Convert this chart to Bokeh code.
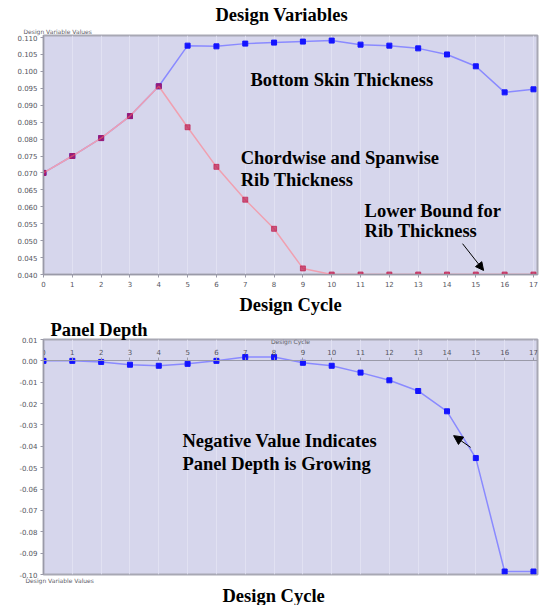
from bokeh.plotting import figure
from bokeh.layouts import column
from bokeh.models import Range1d, FixedTicker, Label, Arrow, NormalHead, Title
from bokeh.embed import file_html
from bokeh.resources import INLINE

# ---------------- data ----------------
cycles = [0, 1, 2, 3, 4, 5, 6, 7, 8, 9, 10, 11, 12, 13, 14, 15, 16, 17]
cycle_labels = ["0", "1", "2", "3", "4", "5", "6", "7", "8", "9", "10", "11",
                "12", "13", "14", "15", "16", "17"]

skin_thickness = [0.0700, 0.0750, 0.0803, 0.0868, 0.0956, 0.1076, 0.1074, 0.1082,
                  0.1085, 0.1088, 0.1091, 0.1079, 0.1076, 0.1068, 0.1050, 0.1015,
                  0.0938, 0.0947]
rib_thickness = [0.0700, 0.0750, 0.0803, 0.0868, 0.0956, 0.0835, 0.0718, 0.0621,
                 0.0535, 0.0418, 0.0400, 0.0400, 0.0400, 0.0400, 0.0400, 0.0400,
                 0.0400, 0.0400]
panel_depth = [0.0000, 0.0000, -0.0005, -0.0018, -0.0023, -0.0014, 0.0000, 0.0018,
               0.0018, -0.0009, -0.0023, -0.0055, -0.0091, -0.0141, -0.0236,
               -0.0455, -0.0986, -0.0986]

top_ticks = [0.040, 0.045, 0.050, 0.055, 0.060, 0.065, 0.070, 0.075, 0.080,
             0.085, 0.090, 0.095, 0.100, 0.105, 0.110]
top_tick_labels = ["0.040", "0.045", "0.050", "0.055", "0.060", "0.065", "0.070",
                   "0.075", "0.080", "0.085", "0.090", "0.095", "0.100", "0.105",
                   "0.110"]
bottom_ticks = [0.01, 0.0, -0.01, -0.02, -0.03, -0.04, -0.05, -0.06, -0.07,
                -0.08, -0.09, -0.10]
bottom_tick_labels = ["0.01", "0.00", "-0.01", "-0.02", "-0.03", "-0.04", "-0.05",
                      "-0.06", "-0.07", "-0.08", "-0.09", "-0.10"]

# ---------------- style ----------------
SERIF = "Liberation Serif"
BIG = "18.5px"
BG = "#d6d6ec"
BLUE_LINE = "#8a8aff"
BLUE_MARK = "#1414ff"
RED_LINE = "#f0a0b0"
RED_MARK = "#c02050"


def style(p):
    p.background_fill_color = BG
    p.border_fill_color = "white"
    p.outline_line_color = "#a8a8b4"
    p.outline_line_width = 2
    p.ygrid.visible = False
    p.xgrid.grid_line_color = "#e4e4f4"
    p.xgrid.grid_line_alpha = 0.8
    for ax in p.axis:
        ax.axis_line_color = "#9a9aa8"
        ax.major_tick_line_color = "#9a9aa8"
        ax.minor_tick_line_color = None
        ax.major_tick_in = 0
        ax.major_tick_out = 3
        ax.major_label_standoff = 3
        ax.major_label_text_font = "DejaVu Sans"
        ax.major_label_text_font_size = "7px"
        ax.major_label_text_color = "#555560"


def bold_label(p, x, y, text):
    p.add_layout(Label(x=x, y=y, text=text, text_font=SERIF, text_font_style="bold",
                       text_font_size=BIG, text_color="black", text_align="left",
                       text_baseline="middle"))


def big_title(text, offset, standoff=0):
    return Title(text=text, align="left", offset=offset, standoff=standoff,
                 text_font=SERIF, text_font_style="bold", text_font_size=BIG,
                 text_color="black")


def tiny_title(text, offset, standoff=0):
    return Title(text=text, align="left", offset=offset, standoff=standoff,
                 text_font="DejaVu Sans", text_font_style="normal",
                 text_font_size="6px", text_color="#606068")


# ---------------- top chart ----------------
top = figure(width=544, height=317, x_range=Range1d(0, 17.14),
             y_range=Range1d(0.04, 0.1106), output_backend="svg",
             toolbar_location=None, min_border_left=43, min_border_right=7,
             min_border_top=35, min_border_bottom=43)
top.xaxis.ticker = FixedTicker(ticks=cycles)
top.xaxis.major_label_overrides = {c: l for c, l in zip(cycles, cycle_labels)}
top.yaxis.ticker = FixedTicker(ticks=top_ticks)
top.yaxis.major_label_overrides = {t: l for t, l in zip(top_ticks, top_tick_labels)}
style(top)
top.xaxis.axis_label = "Design Cycle"
top.xaxis.axis_label_text_font = SERIF
top.xaxis.axis_label_text_font_style = "bold"
top.xaxis.axis_label_text_font_size = BIG
top.xaxis.axis_label_text_color = "black"
top.xaxis.axis_label_standoff = 5

top.add_layout(tiny_title("Design Variable Values", -20, standoff=2), "above")
top.add_layout(big_title("Design Variables", 172, standoff=0), "above")

top.line(cycles, skin_thickness, line_color=BLUE_LINE, line_width=1.5)
top.scatter(cycles, skin_thickness, marker="square", size=5, color=BLUE_MARK)
top.line(cycles, rib_thickness, line_color=RED_LINE, line_width=1.5)
top.scatter(cycles, rib_thickness, marker="square", size=5, color=RED_MARK,
            alpha=0.7)

bold_label(top, 7.18, 0.0976, "Bottom Skin Thickness")
bold_label(top, 6.84, 0.0744, "Chordwise and Spanwise")
bold_label(top, 6.84, 0.0679, "Rib Thickness")
bold_label(top, 11.14, 0.0588, "Lower Bound for")
bold_label(top, 11.14, 0.0529, "Rib Thickness")
top.add_layout(Arrow(end=NormalHead(size=8, fill_color="black", line_color="black"),
                     x_start=14.54, y_start=0.0491, x_end=15.27, y_end=0.0412,
                     line_color="black", line_width=1))

# ---------------- bottom chart ----------------
bot = figure(width=544, height=288, x_range=Range1d(0, 17.14),
             y_range=Range1d(-0.10, 0.01), output_backend="svg",
             toolbar_location=None, x_axis_location="above",
             min_border_left=43, min_border_right=7, min_border_top=20,
             min_border_bottom=28)
bot.xaxis.ticker = FixedTicker(ticks=cycles)
bot.xaxis.major_label_overrides = {c: l for c, l in zip(cycles, cycle_labels)}
bot.xaxis.fixed_location = 0
bot.yaxis.ticker = FixedTicker(ticks=bottom_ticks)
bot.yaxis.major_label_overrides = {t: l for t, l in zip(bottom_ticks, bottom_tick_labels)}
style(bot)
bot.xaxis.axis_label = "Design Cycle"
bot.xaxis.axis_label_text_font = "DejaVu Sans"
bot.xaxis.axis_label_text_font_style = "normal"
bot.xaxis.axis_label_text_font_size = "6px"
bot.xaxis.axis_label_text_color = "#606068"
bot.xaxis.axis_label_standoff = 1

bot.add_layout(big_title("Panel Depth", 7), "above")
bot.add_layout(tiny_title("Design Variable Values", -18), "below")
bot.add_layout(big_title("Design Cycle", 179), "below")

bot.line(cycles, panel_depth, line_color=BLUE_LINE, line_width=1.5)
bot.scatter(cycles, panel_depth, marker="square", size=5, color=BLUE_MARK)

bold_label(bot, 4.82, -0.0377, "Negative Value Indicates")
bold_label(bot, 4.82, -0.0482, "Panel Depth is Growing")
bot.add_layout(Arrow(end=NormalHead(size=9, fill_color="black", line_color="black"),
                     x_start=14.82, y_start=-0.0405, x_end=14.23, y_end=-0.0350,
                     line_color="black", line_width=1))

layout = column(top, bot, spacing=0)
open("out.html", "w").write(file_html(layout, INLINE))
